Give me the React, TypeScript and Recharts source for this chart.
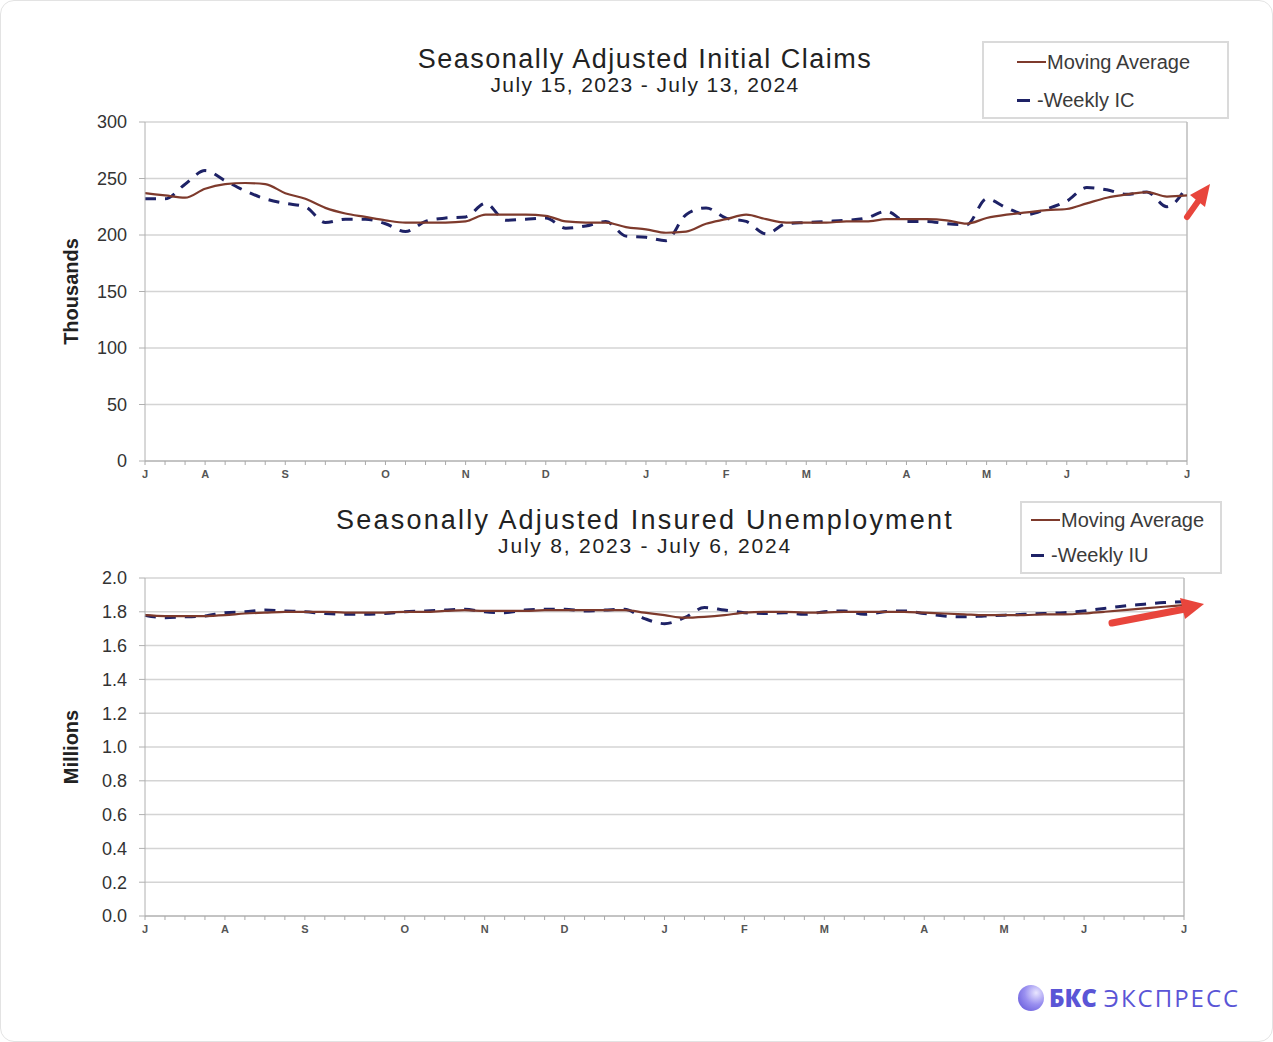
import React from 'react'
import { LineChart, Line, XAxis, YAxis, CartesianGrid, ReferenceLine } from 'recharts'

// weekly initial claims, thousands (Jul 15 2023 - Jul 13 2024)
const icWeekly = [
  232, 232, 245, 257, 248, 239, 232, 228, 225, 211, 214, 214, 210, 203, 212, 215, 216, 228,
  213, 214, 215, 206, 208, 212, 199, 198, 195, 218, 224, 215, 212, 201, 210, 211, 212, 213,
  215, 221, 212, 212, 210, 209, 232, 224, 218, 223, 230, 242, 240, 236, 238, 225, 243,
]
const icAvg = [
  237, 235, 233, 241, 245, 246, 245, 237, 232, 224, 219, 216, 213, 211, 211, 211, 212, 218,
  218, 218, 217, 212, 211, 211, 207, 205, 202, 203, 210, 214, 218, 214, 211, 211, 211, 212,
  212, 214, 214, 214, 213, 210, 215, 218, 220, 222, 223, 228, 233, 236, 238, 234, 235,
]

// insured unemployment, millions (Jul 8 2023 - Jul 6 2024)
const iuWeekly = [
  1.78, 1.765, 1.77, 1.775, 1.795, 1.8, 1.81, 1.805, 1.8, 1.79, 1.785, 1.785, 1.79, 1.8, 1.805,
  1.81, 1.815, 1.8, 1.795, 1.81, 1.815, 1.815, 1.805, 1.81, 1.815, 1.76, 1.73, 1.765, 1.825,
  1.81, 1.795, 1.79, 1.795, 1.785, 1.8, 1.805, 1.785, 1.8, 1.805, 1.79, 1.775, 1.77, 1.775,
  1.78, 1.785, 1.79, 1.795, 1.805, 1.82, 1.835, 1.845, 1.855, 1.86,
]
const iuAvg = [
  1.78, 1.775, 1.775, 1.775, 1.78, 1.79, 1.795, 1.8, 1.8, 1.8, 1.795, 1.795, 1.795, 1.8, 1.8,
  1.805, 1.81, 1.805, 1.805, 1.805, 1.81, 1.81, 1.81, 1.81, 1.81, 1.795, 1.78, 1.765, 1.77,
  1.78, 1.795, 1.8, 1.8, 1.795, 1.795, 1.8, 1.8, 1.8, 1.8, 1.795, 1.79, 1.785, 1.78, 1.78,
  1.78, 1.785, 1.785, 1.79, 1.8, 1.81, 1.82, 1.83, 1.84,
]

const monthLabels = ['J', 'A', 'S', 'O', 'N', 'D', 'J', 'F', 'M', 'A', 'M', 'J', 'J']
const icMonthWeeks = [0, 3, 7, 12, 16, 20, 25, 29, 33, 38, 42, 46, 52]
const iuMonthWeeks = [0, 4, 8, 13, 17, 21, 26, 30, 34, 39, 43, 47, 52]

const icYTicks = [0, 50, 100, 150, 200, 250, 300]
const iuYTicks = [0, 0.2, 0.4, 0.6, 0.8, 1.0, 1.2, 1.4, 1.6, 1.8, 2.0]

const AVG_COLOR = '#7e3a2c'
const WEEKLY_COLOR = '#1e2266'
const FONT = '"Liberation Sans", Arial, sans-serif'

const icData = icWeekly.map((w, i) => ({ i, weekly: w, avg: icAvg[i] }))
const iuData = iuWeekly.map((w, i) => ({ i, weekly: w, avg: iuAvg[i] }))

function monthFormatter(weeks: number[]) {
  return (v: number) => {
    const k = weeks.indexOf(v)
    return k >= 0 ? monthLabels[k] : ''
  }
}

interface PanelProps {
  data: { i: number; weekly: number; avg: number }[]
  top: number
  height: number
  marginTop: number
  right: number
  yDomain: [number, number]
  yTicks: number[]
  yFormat: (v: number) => string
  yLabel: string
  monthWeeks: number[]
}

function Panel({ data, top, height, marginTop, right, yDomain, yTicks, yFormat, yLabel, monthWeeks }: PanelProps) {
  return (
    <div style={{ position: 'absolute', left: 0, top }}>
      <LineChart
        width={1273}
        height={height}
        data={data}
        margin={{ top: marginTop, right, bottom: 0, left: 84 }}
      >
        <CartesianGrid vertical={false} stroke="#d4d4d4" strokeWidth={1.5} />
        <XAxis
          type="number"
          dataKey="i"
          domain={[0, 52]}
          ticks={data.map((d) => d.i)}
          interval={0}
          tickFormatter={monthFormatter(monthWeeks)}
          height={30}
          tickSize={4}
          tickMargin={5}
          stroke="#a8a8a8"
          tick={{ fontSize: 11, fontWeight: 700, fill: '#555', fontFamily: FONT }}
        />
        <YAxis
          type="number"
          domain={yDomain}
          ticks={yTicks}
          interval={0}
          width={60}
          tickSize={6}
          tickMargin={12}
          tickFormatter={yFormat}
          stroke="#b0b0b0"
          tick={{ fontSize: 18, fill: '#333', fontFamily: FONT }}
          label={{
            value: yLabel,
            angle: -90,
            position: 'left',
            offset: 14,
            style: { textAnchor: 'middle', fontSize: 20, fontWeight: 700, fill: '#222', fontFamily: FONT },
          }}
        />
        <ReferenceLine x={52} stroke="#bdbdbd" strokeWidth={1.5} />
        <Line
          type="monotone"
          dataKey="weekly"
          stroke={WEEKLY_COLOR}
          strokeWidth={3}
          strokeDasharray="11 9"
          dot={false}
          isAnimationActive={false}
        />
        <Line
          type="monotone"
          dataKey="avg"
          stroke={AVG_COLOR}
          strokeWidth={2.2}
          dot={false}
          isAnimationActive={false}
        />
      </LineChart>
    </div>
  )
}

interface TitleProps {
  top: number
  title: string
  sub: string
  titleSpacing: number
  subSpacing: number
}

function Title({ top, title, sub, titleSpacing, subSpacing }: TitleProps) {
  return (
    <div style={{ position: 'absolute', left: 294, top, width: 700, textAlign: 'center', fontFamily: FONT, color: '#222' }}>
      <div style={{ fontSize: 27, lineHeight: '28px', height: 28, letterSpacing: titleSpacing }}>{title}</div>
      <div style={{ fontSize: 21, lineHeight: '24px', height: 24, letterSpacing: subSpacing }}>{sub}</div>
    </div>
  )
}

interface LegendProps {
  left: number
  top: number
  width: number
  height: number
  pad: number
  row1: number
  row2: number
  weeklyText: string
}

function LegendBox({ left, top, width, height, pad, row1, row2, weeklyText }: LegendProps) {
  return (
    <div
      style={{
        position: 'absolute',
        left,
        top,
        width,
        height,
        border: '2px solid #dadada',
        boxSizing: 'border-box',
        fontFamily: FONT,
        fontSize: 20,
        color: '#3a3a3a',
      }}
    >
      <div style={{ position: 'absolute', left: pad, top: row1 - 12, height: 24, display: 'flex', alignItems: 'center' }}>
        <span style={{ width: 29, height: 2, background: AVG_COLOR, display: 'inline-block', marginRight: 1 }} />
        <span>Moving Average</span>
      </div>
      <div style={{ position: 'absolute', left: pad, top: row2 - 12, height: 24, display: 'flex', alignItems: 'center' }}>
        <span style={{ width: 13, height: 3, background: WEEKLY_COLOR, display: 'inline-block', marginRight: 7 }} />
        <span>-{weeklyText}</span>
      </div>
    </div>
  )
}

export default function App() {
  return (
    <div
      style={{
        position: 'absolute',
        left: 0,
        top: 0,
        width: 1273,
        height: 1042,
        background: '#fff',
        border: '1px solid #e3e3e3',
        borderRadius: 14,
        boxSizing: 'border-box',
        overflow: 'hidden',
      }}
    >
      <Panel
        data={icData}
        top={0}
        height={490}
        marginTop={121}
        right={87}
        yDomain={[0, 300]}
        yTicks={icYTicks}
        yFormat={(v) => String(v)}
        yLabel="Thousands"
        monthWeeks={icMonthWeeks}
      />
      <Panel
        data={iuData}
        top={490}
        height={455}
        marginTop={87}
        right={90}
        yDomain={[0, 2]}
        yTicks={iuYTicks}
        yFormat={(v) => v.toFixed(1)}
        yLabel="Millions"
        monthWeeks={iuMonthWeeks}
      />

      <Title top={44} title="Seasonally Adjusted Initial Claims" sub="July 15, 2023 - July 13, 2024" titleSpacing={1.5} subSpacing={1.4} />
      <Title top={505} title="Seasonally Adjusted Insured Unemployment" sub="July 8, 2023 - July 6, 2024" titleSpacing={2.2} subSpacing={1.8} />

      <LegendBox left={981} top={40} width={247} height={78} pad={33} row1={19} row2={57} weeklyText="Weekly IC" />
      <LegendBox left={1019} top={500} width={202} height={73} pad={9} row1={17} row2={52} weeklyText="Weekly IU" />

      {/* red annotation arrows */}
      <svg width={1273} height={1042} style={{ position: 'absolute', left: 0, top: 0, pointerEvents: 'none' }}>
        <line x1={1186} y1={216} x2={1198} y2={199} stroke="#e8453c" strokeWidth={6} strokeLinecap="round" />
        <polygon points="1209,183 1189,194 1204,206" fill="#e8453c" />
        <line x1={1111} y1={622} x2={1184} y2={608} stroke="#e8453c" strokeWidth={7} strokeLinecap="round" />
        <polygon points="1203,603 1179,597 1184,618" fill="#e8453c" />
      </svg>

      {/* watermark */}
      <div
        style={{
          position: 'absolute',
          left: 1017,
          top: 980,
          display: 'flex',
          alignItems: 'center',
          fontFamily: '"Open Sans", "Noto Sans", sans-serif',
          fontSize: 24,
          color: '#5a55d6',
        }}
      >
        <span
          style={{
            width: 26,
            height: 26,
            borderRadius: '50%',
            background: 'radial-gradient(circle at 70% 30%, #e9e6ff 0%, #9a90f0 45%, #5b4fd6 100%)',
            display: 'inline-block',
            marginRight: 5,
          }}
        />
        <span style={{ fontWeight: 800, marginRight: 7 }}>БКС</span>
        <span style={{ fontWeight: 400, letterSpacing: 2 }}>ЭКСПРЕСС</span>
      </div>
    </div>
  )
}
